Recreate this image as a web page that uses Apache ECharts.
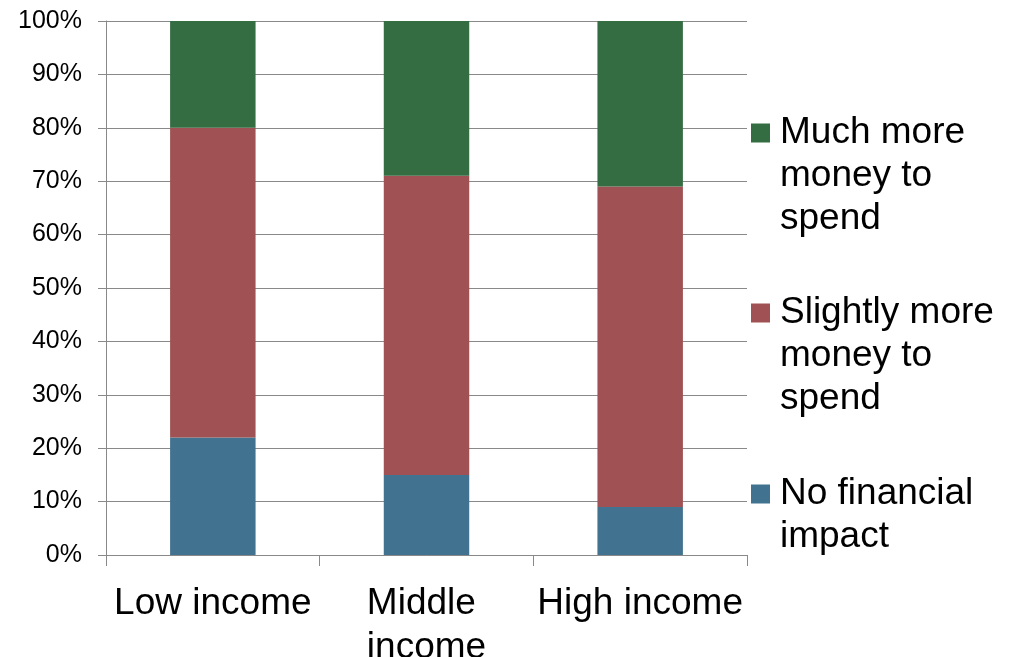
<!DOCTYPE html>
<html>
<head>
<meta charset="utf-8">
<script src="https://cdn.jsdelivr.net/npm/echarts@6/dist/echarts.min.js"></script>
<style>
  html, body { margin: 0; padding: 0; background: #fff; }
  #main { width: 1010px; height: 657px; }
</style>
</head>
<body>
<div id="main"></div>
<script>
// categories and shares (percent)
var categories = ['Low income', 'Middle income', 'High income'];
var noImpact = [22, 15, 9];
var slightlyMore = [58, 56, 60];
var muchMore = [20, 29, 31];
var yTicks = [0, 10, 20, 30, 40, 50, 60, 70, 80, 90, 100];

var names = ['No financial impact', 'Slightly more money to spend', 'Much more money to spend'];
var colors = ['#41728f', '#a05153', '#356d43'];
var legendLines = {
    'Much more money to spend': ['Much more', 'money to', 'spend'],
    'Slightly more money to spend': ['Slightly more', 'money to', 'spend'],
    'No financial impact': ['No financial', 'impact']
};

var font = 'Liberation Sans, Arial, sans-serif';
var gridColor = '#898989';
var lh = 43;

// legend text is centred on the marker, so pad with empty lines on top
// to put the first line beside the marker
function legendText(n) {
    var lines = legendLines[n];
    var out = [];
    for (var i = 1; i < lines.length; i++) out.push('{t| }');
    for (var j = 0; j < lines.length; j++) out.push('{t|' + lines[j] + '}');
    return out.join('\n');
}

function legendFor(name, centerY) {
    var n = legendLines[name].length;
    var h = lh * (2 * n - 1);
    return {
        data: [name],
        orient: 'vertical',
        left: 751,
        top: centerY - h / 2,
        padding: 0,
        itemWidth: 19,
        itemHeight: 19,
        icon: 'rect',
        selectedMode: false,
        formatter: legendText,
        textStyle: {
            fontFamily: font,
            fontSize: 37,
            lineHeight: lh,
            color: '#000',
            rich: {
                t: { fontFamily: font, fontSize: 37, lineHeight: lh, color: '#000', padding: [0, 0, 0, 5] }
            }
        }
    };
}

var mychar = echarts.init(document.getElementById('main'));
mychar.setOption({
    backgroundColor: '#fff',
    animation: false,
    grid: { left: 106, right: 263, top: 21, bottom: 102, outerBoundsMode: 'none', containLabel: false },
    legend: [
        legendFor(names[2], 133),
        legendFor(names[1], 313),
        legendFor(names[0], 494)
    ],
    xAxis: {
        type: 'category',
        data: categories,
        axisLine: { show: true, lineStyle: { color: gridColor, width: 1 } },
        axisTick: { show: true, length: 11, alignWithLabel: false, lineStyle: { color: gridColor } },
        axisLabel: {
            interval: 0,
            margin: 27,
            fontFamily: font,
            fontSize: 37,
            lineHeight: 44,
            color: '#000',
            width: 213,
            overflow: 'break'
        }
    },
    yAxis: {
        type: 'value',
        min: yTicks[0],
        max: yTicks[yTicks.length - 1],
        interval: 10,
        axisLine: { show: true, lineStyle: { color: gridColor, width: 1 } },
        axisTick: { show: true, length: 8, lineStyle: { color: gridColor } },
        splitLine: { show: true, lineStyle: { color: gridColor, width: 1 } },
        axisLabel: {
            margin: 24,
            fontFamily: font,
            fontSize: 25,
            color: '#000',
            formatter: '{value}%'
        }
    },
    series: [
        { name: names[0], type: 'bar', stack: 'total', barWidth: '40%', data: noImpact,
          itemStyle: { color: colors[0] } },
        { name: names[1], type: 'bar', stack: 'total', barWidth: '40%', data: slightlyMore,
          itemStyle: { color: colors[1] } },
        { name: names[2], type: 'bar', stack: 'total', barWidth: '40%', data: muchMore,
          itemStyle: { color: colors[2] } }
    ]
});
</script>
</body>
</html>
